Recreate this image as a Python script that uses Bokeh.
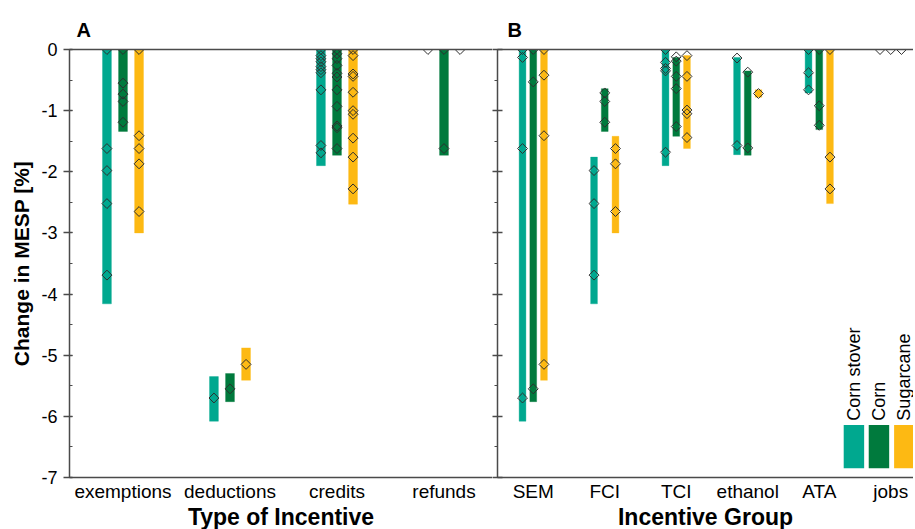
import math
from bokeh.plotting import figure
from bokeh.layouts import row
from bokeh.models import Range1d, LinearAxis, FixedTicker, SingleIntervalTicker, BoxAnnotation, Label
from bokeh.embed import file_html
from bokeh.resources import INLINE

# ---------------- data ----------------
SERIES = ["Corn stover", "Corn", "Sugarcane"]
COLORS = ["#00A88F", "#007A3D", "#FDB913"]

A_CATS = ["exemptions", "deductions", "credits", "refunds"]
B_CATS = ["SEM", "FCI", "TCI", "ethanol", "ATA", "jobs"]

# Panel A: bar extents (top, bottom); None = no bar
A_STOVER_TOP = [0.0, -5.35, 0.0, None]
A_STOVER_BOT = [-4.16, -6.08, -1.90, None]
A_CORN_TOP = [0.0, -5.30, 0.0, 0.0]
A_CORN_BOT = [-1.34, -5.76, -1.73, -1.73]
A_SUGAR_TOP = [0.0, -4.88, 0.0, None]
A_SUGAR_BOT = [-3.00, -5.41, -2.53, None]

# Panel A: individual points
A_STOVER_PTS = [
    [0.0, -1.62, -1.98, -2.52, -3.69],
    [-5.70],
    [0.0, -0.10, -0.15, -0.20, -0.28, -0.33, -0.38, -0.66, -1.57, -1.69],
    [0.0],
]
A_CORN_PTS = [
    [0.0, -0.55, -0.73, -0.85, -1.19],
    [-5.55],
    [0.0, -0.07, -0.15, -0.26, -0.39, -0.45, -0.66, -0.93, -1.25, -1.28, -1.62],
    [0.0, -1.62],
]
A_SUGAR_PTS = [
    [0.0, -1.41, -1.62, -1.87, -2.65],
    [-5.15],
    [0.0, -0.10, -0.40, -0.44, -0.70, -1.00, -1.06, -1.45, -1.76, -2.28],
    [0.0],
]

# Panel B: bar extents
B_STOVER_TOP = [0.0, -1.76, 0.0, -0.13, 0.0, None]
B_STOVER_BOT = [-6.08, -4.16, -1.90, -1.72, -0.71, None]
B_CORN_TOP = [0.0, -0.64, -0.13, -0.35, 0.0, None]
B_CORN_BOT = [-5.76, -1.34, -1.42, -1.73, -1.31, None]
B_SUGAR_TOP = [0.0, -1.42, -0.10, -0.66, 0.0, None]
B_SUGAR_BOT = [-5.41, -3.00, -1.62, -0.78, -2.52, None]

# Panel B: individual points
B_STOVER_PTS = [
    [0.0, -0.13, -1.62, -5.70],
    [-1.98, -2.52, -3.69],
    [0.0, -0.21, -0.31, -0.35, -1.68],
    [-0.14, -1.57],
    [0.0, -0.38, -0.66],
    [0.0],
]
B_CORN_PTS = [
    [0.0, -0.53, -5.55],
    [-0.71, -0.85, -1.19],
    [-0.12, -0.19, -0.44, -0.64, -1.26],
    [-0.37, -1.61],
    [0.0, -0.92, -1.24],
    [0.0],
]
B_SUGAR_PTS = [
    [0.0, -0.42, -1.41, -5.15],
    [-1.62, -1.87, -2.65],
    [-0.10, -0.44, -0.99, -1.05, -1.44],
    [-0.72],
    [0.0, -1.76, -2.28],
    [0.0],
]

Y_TICKS = [0, -1, -2, -3, -4, -5, -6, -7]

# ---------------- style ----------------
FONT = "Liberation Sans"
AXIS_COLOR = "#4a4a4a"
OFFSETS = [-0.15, 0.0, 0.15]
TOP_BORDER = 49


def style_common(p, title_offset):
    p.outline_line_color = None
    p.grid.visible = False
    p.background_fill_color = "white"
    p.border_fill_color = "white"
    p.title.text_font = FONT
    p.title.text_font_size = "20px"
    p.title.text_font_style = "bold"
    p.title.text_color = "black"
    p.title.offset = title_offset
    p.title.standoff = 18


def add_top_line(p):
    top = LinearAxis(ticker=FixedTicker(ticks=[]), major_tick_in=0, major_tick_out=0,
                     minor_tick_in=0, minor_tick_out=0, major_label_standoff=0,
                     axis_line_color=AXIS_COLOR, axis_line_width=1.5)
    p.add_layout(top, "above")


def style_xaxis(p, cats, label):
    ax = p.below[0]
    ticks = [i + 0.5 for i in range(len(cats))]
    ax.ticker = FixedTicker(ticks=ticks)
    ax.major_label_overrides = {t: c for t, c in zip(ticks, cats)}
    ax.major_tick_in = 0
    ax.major_tick_out = 0
    ax.minor_tick_in = 0
    ax.minor_tick_out = 0
    ax.axis_line_color = AXIS_COLOR
    ax.axis_line_width = 1.5
    ax.major_label_text_font = FONT
    ax.major_label_text_font_size = "19px"
    ax.major_label_text_color = "black"
    ax.major_label_standoff = 3
    ax.axis_label = label
    ax.axis_label_text_font = FONT
    ax.axis_label_text_font_size = "23px"
    ax.axis_label_text_font_style = "bold"
    ax.axis_label_text_color = "black"
    ax.axis_label_standoff = -1


def draw_data(p, tops, bots, pts, width):
    for k in range(3):
        xs, ts, bs = [], [], []
        for i, (t, b) in enumerate(zip(tops[k], bots[k])):
            if t is None:
                continue
            xs.append(i + 0.5 + OFFSETS[k])
            ts.append(t)
            bs.append(b)
        p.vbar(x=xs, top=ts, bottom=bs, width=width, fill_color=COLORS[k],
               line_color=COLORS[k], line_alpha=0.35, line_width=1)
    for k in range(3):
        px, py = [], []
        for i, vals in enumerate(pts[k]):
            for v in vals:
                px.append(i + 0.5 + OFFSETS[k])
                py.append(v)
        p.scatter(px, py, marker="square", angle=math.pi / 4, size=7,
                  fill_color=None, line_color="#2e2e2e", line_width=1)


# ---------------- panel A ----------------
A_PX_PER_CAT = 107.0
A_FRAME_W = 423
pA = figure(frame_width=A_FRAME_W, frame_height=428,
            x_range=Range1d(0, A_FRAME_W / A_PX_PER_CAT), y_range=Range1d(-7, 0),
            output_backend="svg", toolbar_location=None, title="A",
            min_border_left=69, min_border_right=0, min_border_top=TOP_BORDER, min_border_bottom=0)
style_common(pA, 7)
style_xaxis(pA, A_CATS, "Type of Incentive")
add_top_line(pA)
ya = pA.left[0]
ya.ticker = SingleIntervalTicker(interval=1, num_minor_ticks=2)
ya.major_label_overrides = {t: str(t) for t in Y_TICKS}
ya.major_tick_out = 6
ya.major_tick_in = 3
ya.minor_tick_out = 0
ya.minor_tick_in = 3
ya.axis_line_color = AXIS_COLOR
ya.axis_line_width = 1.5
ya.major_tick_line_color = AXIS_COLOR
ya.major_tick_line_width = 1.5
ya.minor_tick_line_color = AXIS_COLOR
ya.major_label_text_font = FONT
ya.major_label_text_font_size = "18px"
ya.major_label_text_color = "black"
ya.major_label_standoff = 6
ya.axis_label = "Change in MESP [%]"
ya.axis_label_text_font = FONT
ya.axis_label_text_font_size = "21px"
ya.axis_label_text_font_style = "bold"
ya.axis_label_text_color = "black"
ya.axis_label_standoff = 5

draw_data(pA, [A_STOVER_TOP, A_CORN_TOP, A_SUGAR_TOP],
          [A_STOVER_BOT, A_CORN_BOT, A_SUGAR_BOT],
          [A_STOVER_PTS, A_CORN_PTS, A_SUGAR_PTS], 0.083)

# ---------------- panel B ----------------
B_PX_PER_CAT = 71.5
B_FRAME_W = 416
pB = figure(frame_width=B_FRAME_W, frame_height=428,
            x_range=Range1d(0, B_FRAME_W / B_PX_PER_CAT), y_range=Range1d(-7, 0),
            output_backend="svg", toolbar_location=None, title="B",
            min_border_left=0, min_border_right=0, min_border_top=TOP_BORDER, min_border_bottom=0)
style_common(pB, 10)
style_xaxis(pB, B_CATS, "Incentive Group")
add_top_line(pB)
yb = pB.left[0]
yb.ticker = SingleIntervalTicker(interval=1, num_minor_ticks=2)
yb.major_label_overrides = {t: "" for t in Y_TICKS}
yb.major_tick_out = 5
yb.major_tick_in = 5
yb.minor_tick_out = 3
yb.minor_tick_in = 0
yb.axis_line_color = AXIS_COLOR
yb.axis_line_width = 1.5
yb.major_tick_line_color = AXIS_COLOR
yb.major_tick_line_width = 1.5
yb.minor_tick_line_color = AXIS_COLOR
yb.major_label_standoff = 0

draw_data(pB, [B_STOVER_TOP, B_CORN_TOP, B_SUGAR_TOP],
          [B_STOVER_BOT, B_CORN_BOT, B_SUGAR_BOT],
          [B_STOVER_PTS, B_CORN_PTS, B_SUGAR_PTS], 0.095)

# legend (custom: swatches with rotated labels)
LEG_X = [4.985, 5.335, 5.69]
LEG_HALF_W = 0.143
LEG_TOP, LEG_BOT, LEG_TEXT_Y = -6.14, -6.85, -6.07
for k in range(3):
    pB.add_layout(BoxAnnotation(left=LEG_X[k] - LEG_HALF_W, right=LEG_X[k] + LEG_HALF_W,
                                top=LEG_TOP, bottom=LEG_BOT, fill_color=COLORS[k],
                                fill_alpha=1.0, line_color=None))
    pB.add_layout(Label(x=LEG_X[k], y=LEG_TEXT_Y, text=SERIES[k], angle=math.pi / 2,
                        text_align="left", text_baseline="middle", text_font=FONT,
                        text_font_size="18px", text_color="black"))

layout = row(pA, pB)
open("out.html", "w").write(file_html(layout, INLINE))
